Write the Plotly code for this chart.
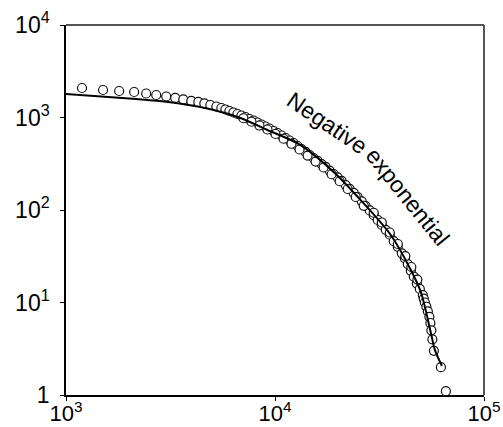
import plotly.graph_objects as go

x_obs = [1193, 1504, 1796, 2119, 2419, 2702, 3017, 3333, 3640, 3976, 4297, 4590, 4905, 5241,
         5539, 5789, 6050, 6324, 6609, 6907, 7219, 7545, 7887, 8244, 8616, 9004, 9410, 9835,
         10280, 10745, 11230, 11734, 12263, 12821, 13400, 14005, 14637, 15298, 15989, 16711,
         17466, 18255, 19079, 19944, 20841, 21783, 22767, 23794, 24871, 25996, 27171, 28392,
         29676, 31015, 32420, 33884, 35418, 37005, 38681, 40428, 41794, 43203, 44656, 46161,
         47717, 49318, 50980, 51500, 52120, 52990, 53870, 54780, 55390, 56000, 56620, 57580,
         62200, 65720,
         # lower edge of the dense band
         7063, 7715, 8428, 9204, 10056, 10985, 11997, 13106, 14318, 15640, 17084, 18664,
         20390, 22270, 24330, 26580, 29676, 32420, 35418, 38681, 42030, 44900, 47990]
y_obs = [2084, 1983, 1934, 1886, 1817, 1751, 1687, 1626, 1567, 1510, 1472, 1418, 1365, 1315,
         1267, 1221, 1176, 1133, 1091, 1051, 1012, 963, 928, 883, 840, 799, 760, 715,
         680, 639, 600, 564, 530, 492, 456, 424, 393, 365, 339, 314,
         292, 267, 245, 225, 206, 186, 169, 153, 138, 124, 110, 99,
         88, 78, 69, 61, 54, 46, 40, 34, 30, 26, 22, 19,
         16, 14, 12, 11, 10, 9, 8, 7, 6, 5, 4, 3,
         2, 1.1,
         982, 900, 819, 742, 663, 589, 520, 451, 388, 334, 288, 243.5,
         204.6, 168.7, 138.2, 111.1, 93.4, 73.3, 57.1, 42.9, 31.8, 24.2, 17.7]

# Fitted negative exponential curve
x_fit = [1000, 2167, 3017, 4693, 6831, 9204, 13253, 19079, 25710, 35810, 44656, 49870, 55690, 58210, 62880]
y_fit = [1795, 1585, 1482, 1257, 988, 733, 504, 258, 128, 53.7, 22.5, 13.0, 4.7, 3.07, 2.06]

x_tickvals = [1000, 10000, 100000]
x_ticktext = ["10<sup>3</sup>", "10<sup>4</sup>", "10<sup>5</sup>"]
y_tickvals = [1, 10, 100, 1000, 10000]
y_ticktext = ["1", "10<sup>1</sup>", "10<sup>2</sup>", "10<sup>3</sup>", "10<sup>4</sup>"]

FONT = "Arial"

fig = go.Figure()
fig.add_trace(go.Scatter(
    x=x_obs, y=y_obs, mode="markers",
    marker=dict(symbol="circle", size=9, color="white",
                line=dict(color="#111111", width=1.2)),
    cliponaxis=False, showlegend=False))
fig.add_trace(go.Scatter(
    x=x_fit, y=y_fit, mode="lines",
    line=dict(color="black", width=2, shape="spline", smoothing=0.8),
    showlegend=False))

fig.update_xaxes(type="log", range=[3, 5], tickvals=x_tickvals, ticktext=x_ticktext,
                 showgrid=False, zeroline=False, showline=True, linecolor="black", linewidth=1.5,
                 ticks="outside", ticklen=4, tickcolor="black", automargin=False,
                 ticklabelstandoff=-6,
                 tickfont=dict(family=FONT, size=22, color="black"))
fig.update_yaxes(type="log", range=[0, 4], tickvals=y_tickvals, ticktext=y_ticktext,
                 showgrid=False, zeroline=False, showline=True, linecolor="black", linewidth=1.5,
                 ticks="outside", ticklen=4, tickcolor="black", ticklabelstandoff=6, automargin=False,
                 tickfont=dict(family=FONT, size=23, color="black"))

# top and right frame lines (gray)
fig.add_shape(type="line", xref="paper", yref="paper", x0=0, x1=1, y0=1, y1=1,
              line=dict(color="#555555", width=2))
fig.add_shape(type="line", xref="paper", yref="paper", x0=1, x1=1, y0=0, y1=1,
              line=dict(color="#555555", width=2))

fig.add_annotation(text="Negative", xref="paper", yref="paper", x=0.625, y=0.736,
                   xanchor="center", yanchor="middle",
                   showarrow=False, textangle=34,
                   font=dict(family=FONT, size=23, color="black"))
fig.add_annotation(text="exponential", xref="paper", yref="paper", x=0.818, y=0.536,
                   xanchor="center", yanchor="middle",
                   showarrow=False, textangle=51,
                   font=dict(family=FONT, size=23, color="black"))

fig.update_layout(width=503, height=427, margin=dict(l=66, r=19, t=25, b=32),
                  paper_bgcolor="white", plot_bgcolor="white")

fig.write_html("out.html")
